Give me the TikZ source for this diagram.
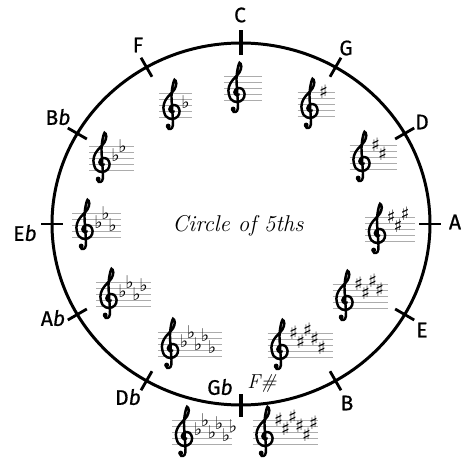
\documentclass[tikz,border=0pt]{standalone}
\usepackage{fontspec}
\newfontfamily\labelfont{Fira Sans}[FakeBold=0.6]
\newfontfamily\musicfont{DejaVu Sans}

\tikzset{
  staffline/.style={gray!65, line width=0.45pt},
  tickmark/.style={black, line width=1.6pt},
  clefline/.style={black, line width=1.4pt, line cap=round},
  keyname/.style={font=\labelfont\fontsize{12}{13}\selectfont, inner sep=0pt},
  sharpsign/.style={font=\musicfont\fontsize{10.5}{10}\selectfont, inner sep=0pt},
  flatsign/.style={font=\musicfont\fontsize{10}{10}\selectfont, inner sep=0pt, yshift=1.6pt},
}

% treble clef drawn as a shape, in staff spaces (bottom line at 0)
\newcommand{\trebleclef}{
  \draw[clefline] plot[smooth, tension=0.6] coordinates {
    (-0.75,-1.45) (-0.45,-2.0) (0.1,-1.8) (0.25,-0.8) (0.1,1.5) (0.0,3.5)
    (0.15,5.0) (0.5,6.2) (0.8,5.6) (0.5,4.6) (-0.3,3.7) (-1.0,2.8)
    (-1.35,1.6) (-0.95,0.15) (0.1,-0.35) (1.05,0.1) (1.35,1.0) (0.95,1.85)
    (0.1,1.95) (-0.35,1.3) (0.0,0.8) (0.4,0.95)};
  \fill[black] (-0.55,-1.5) circle (0.4);
}
% staff and clef: name, centre, width
\newcommand{\keystaff}[3]{
  \begin{scope}[shift={#2}]
    \foreach \k in {-2,...,2}
      \draw[staffline] (-#3/2,\k*6) -- (#3/2,\k*6);
    \begin{scope}[shift={(-#3/2+12,-12)}, x=0.12cm, y=0.12cm]
      \trebleclef
    \end{scope}
  \end{scope}
}
% key with sharps / flats: name, centre, width, staff steps
\newcommand{\sharpkey}[4]{
  \keystaff{#1}{#2}{#3}
  \begin{scope}[shift={#2}]
    \foreach \s [count=\i from 0] in {#4}
      \node[sharpsign] (#1-acc\i) at (-#3/2+26+\i*7,\s*3-12) {♯};
  \end{scope}
}
\newcommand{\flatkey}[4]{
  \keystaff{#1}{#2}{#3}
  \begin{scope}[shift={#2}]
    \foreach \s [count=\i from 0] in {#4}
      \node[flatsign] (#1-acc\i) at (-#3/2+26+\i*7,\s*3-12) {♭};
  \end{scope}
}

\begin{document}
\begin{tikzpicture}[x=0.02cm, y=0.02cm]
    \useasboundingbox (-241,-233) rectangle (222,224);

    \draw[black, line width=1.7pt] (0,0) ellipse [x radius=189, y radius=181];
    \foreach \a in {0,30,60,120,150,180,210,240,300,330}
      \draw[tickmark] (\a:178 and 170) -- (\a:200 and 192);
    \draw[tickmark, line width=2.2pt] (90:168 and 169) -- (90:202 and 194);
    \draw[tickmark, line width=2.2pt] (270:170 and 170) -- (270:202 and 193);

    % key names round the circle
    \node[keyname] (c)  at (-1,209)   {C};
    \node[keyname] (g)  at (105,176)  {G};
    \node[keyname] (d)  at (181,102)  {D};
    \node[keyname] (a)  at (214,2)    {A};
    \node[keyname] (e)  at (181,-106) {E};
    \node[keyname] (b)  at (106,-179) {B};
    \node[keyname] (gb) at (-21,-163) {G\textit{b}};
    \node[keyname, font=\itshape\fontsize{11.5}{12}\selectfont] (fs) at (21,-159) {F\#};
    \node[keyname] (db) at (-113,-173) {D\textit{b}};
    \node[keyname] (ab) at (-188,-94) {A\textit{b}};
    \node[keyname] (eb) at (-216,-9)  {E\textit{b}};
    \node[keyname] (bb) at (-183,107) {B\textit{b}};
    \node[keyname] (f)  at (-103,179) {F};

    \node[font=\itshape\fontsize{13}{14}\selectfont] (title) at (-3,-2) {Circle of 5ths};

    % key signatures
    \keystaff{cmaj}{(2,136)}{37}
    \sharpkey{gmaj}{(75,120)}{37}{8}
    \sharpkey{dmaj}{(132,67)}{47}{8,5}
    \sharpkey{amaj}{(149,-5)}{50}{8,5,9}
    \sharpkey{emaj}{(119,-72)}{55}{8,5,9,6}
    \sharpkey{bmaj}{(59,-121)}{65}{8,5,9,6,3}
    \sharpkey{fsmaj}{(44,-208)}{65}{8,5,9,6,3,7}
    \flatkey{gbmaj}{(-39,-208)}{60}{4,7,3,6,2,5}
    \flatkey{dbmaj}{(-51,-120)}{64}{4,7,3,6,2}
    \flatkey{abmaj}{(-117,-70)}{55}{4,7,3,6}
    \flatkey{ebmaj}{(-144,-1)}{49}{4,7,3}
    \flatkey{bbmaj}{(-129,66)}{45}{4,7}
    \flatkey{fmaj}{(-65,119)}{33}{4}
\end{tikzpicture}
\end{document}
